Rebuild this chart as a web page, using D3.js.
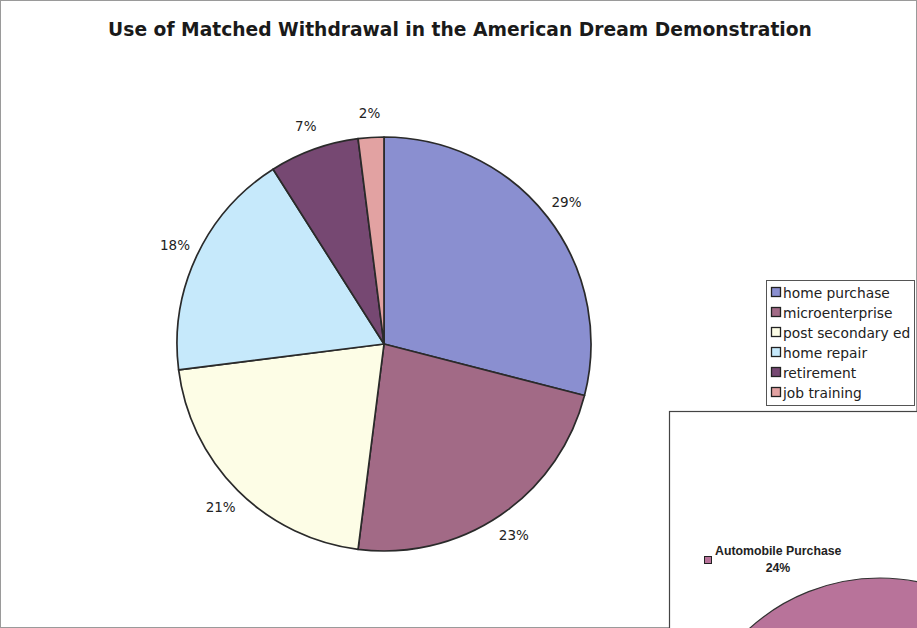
<!DOCTYPE html>
<html>
<head>
<meta charset="utf-8">
<script src="https://cdn.jsdelivr.net/npm/d3@7"></script>
<style>
  html, body { margin: 0; padding: 0; background: #fff; }
  svg { display: block; }
</style>
</head>
<body>
<svg id="chart" width="917" height="628"></svg>
<script>
const title = "Use of Matched Withdrawal in the American Dream Demonstration";
const categories = ["home purchase", "microenterprise", "post secondary ed", "home repair", "retirement", "job training"];
const values = [29, 23, 21, 18, 7, 2];
const labels = ["29%", "23%", "21%", "18%", "7%", "2%"];
const colors = ["#8a8fd0", "#a26a86", "#fdfde6", "#c6e9fb", "#764872", "#e2a2a2"];
const insetCategory = "Automobile Purchase";
const insetValue = 24;
const insetLabel = "24%";
const insetColor = "#b8739a";

const svg = d3.select("#chart");
const W = 917, H = 628;

// outer frame
svg.append("rect").attr("x", 0.5).attr("y", 0.5).attr("width", W - 1).attr("height", H - 1)
  .attr("fill", "#fff").attr("stroke", "#9a9a9a").attr("stroke-width", 1);

// title
svg.append("text").attr("x", 460).attr("y", 36).attr("text-anchor", "middle")
  .attr("font-family", "DejaVu Sans, Verdana, sans-serif").attr("font-weight", "bold")
  .attr("font-size", 18.7).attr("fill", "#1a1a1a").text(title);

// main pie
const cx = 384, cy = 344, R = 207;
const pie = d3.pie().sort(null).value(d => d);
const arcs = pie(values);
const arc = d3.arc().innerRadius(0).outerRadius(R);
const g = svg.append("g").attr("transform", `translate(${cx},${cy})`);
g.selectAll("path").data(arcs).join("path")
  .attr("d", arc).attr("fill", (d, i) => colors[i])
  .attr("stroke", "#2a2a2a").attr("stroke-width", 1.7).attr("stroke-linejoin", "round");

const labelArc = d3.arc().innerRadius(R + 24).outerRadius(R + 24);
g.selectAll("text.lbl").data(arcs).join("text").attr("class", "lbl")
  .attr("transform", d => { const c = labelArc.centroid(d); return `translate(${c[0]},${c[1]})`; })
  .attr("text-anchor", "middle").attr("dy", "0.35em")
  .attr("font-family", "DejaVu Sans, Verdana, sans-serif").attr("font-size", 13.5).attr("fill", "#222")
  .text((d, i) => labels[i]);

// legend
const lg = svg.append("g");
lg.append("rect").attr("x", 766.5).attr("y", 280.5).attr("width", 148).attr("height", 125)
  .attr("fill", "#fff").attr("stroke", "#555").attr("stroke-width", 1);
categories.forEach((c, i) => {
  const y = 293 + i * 20;
  lg.append("rect").attr("x", 771.5).attr("y", y - 5.5).attr("width", 9).attr("height", 9)
    .attr("fill", colors[i]).attr("stroke", "#222").attr("stroke-width", 1.3);
  lg.append("text").attr("x", 783).attr("y", y).attr("dy", "0.35em")
    .attr("font-family", "DejaVu Sans, Verdana, sans-serif").attr("font-size", 13.8).attr("fill", "#222")
    .text(c);
});

// inset overlapping chart fragment
const ig = svg.append("g");
ig.append("rect").attr("x", 669.5).attr("y", 411.5).attr("width", 260).attr("height", 230)
  .attr("fill", "#fff").attr("stroke", "#444").attr("stroke-width", 1.2);
const insetPie = d3.pie().sort(null).value(d => d)([insetValue, 100 - insetValue]);
const insetArc = d3.arc().innerRadius(0).outerRadius(194).startAngle(-Math.PI).endAngle(Math.PI);
ig.append("path").attr("transform", "translate(880,772)")
  .attr("d", insetArc(insetPie[0])).attr("fill", insetColor).attr("stroke", "#333").attr("stroke-width", 1.2);
ig.append("rect").attr("x", 704.5).attr("y", 556.5).attr("width", 7).attr("height", 7)
  .attr("fill", insetColor).attr("stroke", "#222").attr("stroke-width", 1);
ig.append("text").attr("x", 715).attr("y", 555)
  .attr("font-family", "Liberation Sans, sans-serif").attr("font-weight", "bold").attr("font-size", 12.3)
  .attr("fill", "#222").text(insetCategory);
ig.append("text").attr("x", 778).attr("y", 572).attr("text-anchor", "middle")
  .attr("font-family", "Liberation Sans, sans-serif").attr("font-weight", "bold").attr("font-size", 12.3)
  .attr("fill", "#222").text(insetLabel);
</script>
</body>
</html>
